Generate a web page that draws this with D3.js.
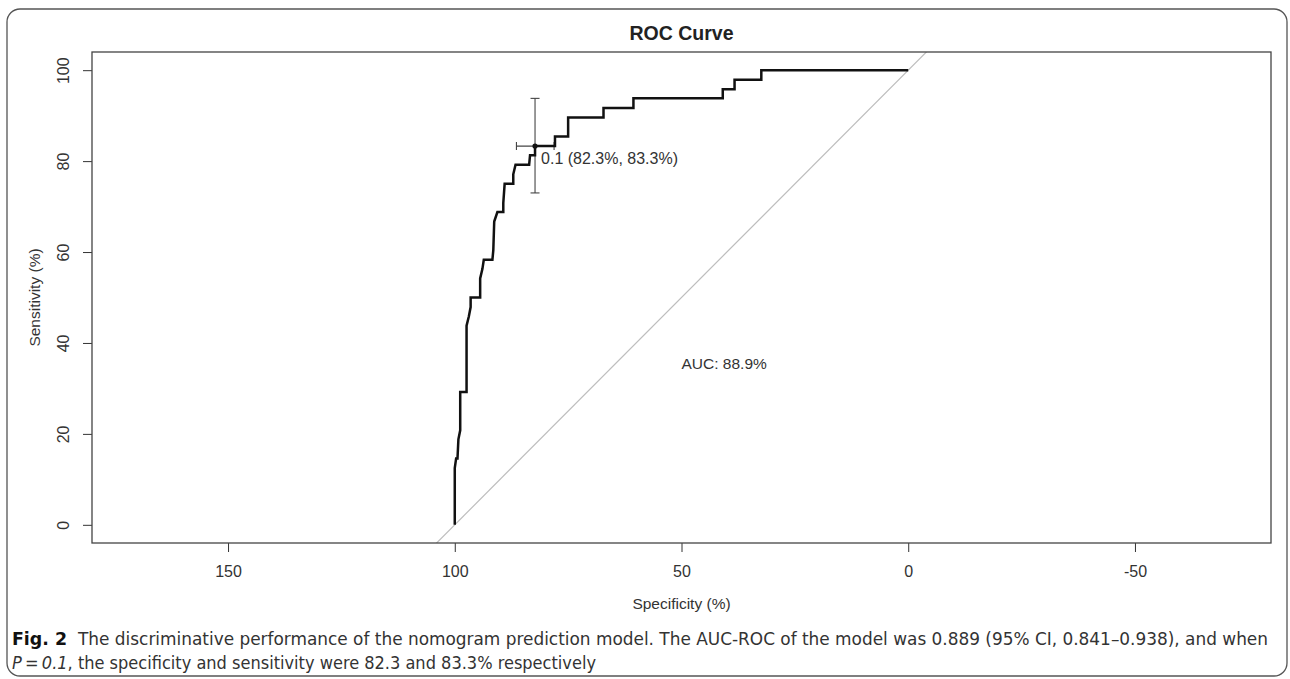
<!DOCTYPE html>
<html>
<head>
<meta charset="utf-8">
<script src="https://cdn.jsdelivr.net/npm/d3@7"></script>
<style>
  body { margin: 0; background: #fff; }
  svg { display: block; }
  .tick text { font-family: "Liberation Sans", Arial, sans-serif; }
</style>
</head>
<body>
<div id="chart"></div>
<script>
// ROC curve points (specificity %, sensitivity %)
const specificity = [100, 100, 99.7, 99.4, 99.2, 98.8, 98.8, 97.4, 97.4, 96.9, 96.5, 96.5, 94.4, 94.4, 93.9, 93.6, 91.7, 91.5, 91.3, 90.6, 89.3, 89.3, 89.0, 87.1, 87.1, 86.6, 83.6, 83.4, 82.3, 82.3, 77.9, 77.9, 75.0, 75.0, 67.2, 67.2, 60.6, 60.6, 40.9, 40.9, 38.3, 38.3, 32.4, 32.4, 0]
const sensitivity = [0, 12.5, 14.6, 14.6, 18.8, 20.8, 29.2, 29.2, 43.8, 45.8, 47.9, 50, 50, 54.2, 56.3, 58.3, 58.3, 60.4, 66.7, 68.8, 68.8, 70.8, 75, 75, 77.1, 79.2, 79.2, 81.3, 81.3, 83.3, 83.3, 85.4, 85.4, 89.6, 89.6, 91.7, 91.7, 93.8, 93.8, 95.8, 95.8, 97.9, 97.9, 100, 100]

// best threshold and its confidence intervals
const threshold = { label: '0.1', spec: 82.3, sens: 83.3 }
const specCI = [86.4, 78.1]
const sensCI = [73.0, 93.8]
const auc = 88.9

const xTicks = [150, 100, 50, 0, -50]
const yTicks = [0, 20, 40, 60, 80, 100]

const width = 1290
const height = 679
const margin = { top: 52, left: 92, right: 19, bottom: 136 }
const axisFont = '"Liberation Sans", Arial, sans-serif'

const svg = d3
  .select('#chart')
  .append('svg')
  .attr('width', width)
  .attr('height', height)

// outer figure frame
svg
  .append('rect')
  .attr('x', 7)
  .attr('y', 9)
  .attr('width', 1280)
  .attr('height', 667)
  .attr('rx', 13)
  .attr('fill', 'none')
  .attr('stroke', '#555')
  .attr('stroke-width', 1.3)

const x = d3
  .scaleLinear()
  .domain([180, -80])
  .range([margin.left, width - margin.right])

const y = d3
  .scaleLinear()
  .domain([-4, 104])
  .range([height - margin.bottom, margin.top])

const plot = svg.append('g')

// diagonal chance line, clipped to the plot box
svg
  .append('clipPath')
  .attr('id', 'box')
  .append('rect')
  .attr('x', x.range()[0])
  .attr('y', y.range()[1])
  .attr('width', x.range()[1] - x.range()[0])
  .attr('height', y.range()[0] - y.range()[1])

plot
  .append('line')
  .attr('clip-path', 'url(#box)')
  .attr('x1', x(110))
  .attr('y1', y(-10))
  .attr('x2', x(-10))
  .attr('y2', y(110))
  .attr('stroke', '#bdbdbd')
  .attr('stroke-width', 1.2)

// CI bars
const ci = plot.append('g').attr('stroke', '#444').attr('stroke-width', 1.1)
ci.append('line')
  .attr('x1', x(specCI[0]))
  .attr('x2', x(specCI[1]))
  .attr('y1', y(threshold.sens))
  .attr('y2', y(threshold.sens))
ci.selectAll('.hcap')
  .data(specCI)
  .enter()
  .append('line')
  .attr('x1', d => x(d))
  .attr('x2', d => x(d))
  .attr('y1', y(threshold.sens) - 4)
  .attr('y2', y(threshold.sens) + 4)
ci.append('line')
  .attr('x1', x(threshold.spec))
  .attr('x2', x(threshold.spec))
  .attr('y1', y(sensCI[0]))
  .attr('y2', y(sensCI[1]))
ci.selectAll('.vcap')
  .data(sensCI)
  .enter()
  .append('line')
  .attr('x1', x(threshold.spec) - 4.5)
  .attr('x2', x(threshold.spec) + 4.5)
  .attr('y1', d => y(d))
  .attr('y2', d => y(d))

// the ROC curve
const line = d3
  .line()
  .x(d => x(d[0]))
  .y(d => y(d[1]))

plot
  .append('path')
  .datum(d3.zip(specificity, sensitivity))
  .attr('d', line)
  .attr('fill', 'none')
  .attr('stroke', '#111')
  .attr('stroke-width', 2.5)
  .attr('stroke-linejoin', 'miter')

plot
  .append('circle')
  .attr('cx', x(threshold.spec))
  .attr('cy', y(threshold.sens))
  .attr('r', 2.6)
  .attr('fill', '#111')

plot
  .append('text')
  .text(`${threshold.label} (${threshold.spec}%, ${threshold.sens}%)`)
  .attr('x', x(threshold.spec) + 6)
  .attr('y', y(threshold.sens) + 18)
  .attr('font-family', axisFont)
  .attr('font-size', 16)
  .attr('fill', '#333')

plot
  .append('text')
  .text(`AUC: ${auc}%`)
  .attr('x', x(50))
  .attr('y', y(50) + 71)
  .attr('font-family', axisFont)
  .attr('font-size', 15.5)
  .attr('fill', '#333')

// axes
const xAxis = svg
  .append('g')
  .attr('transform', `translate(0,${y.range()[0]})`)
  .call(
    d3
      .axisBottom(x)
      .tickValues(xTicks)
      .tickFormat(d => String(d))
      .tickSize(9)
      .tickPadding(14)
  )
xAxis.select('.domain').remove()
xAxis.selectAll('line').attr('stroke', '#333')
xAxis.selectAll('text').attr('font-size', 16).attr('fill', '#333')

const yAxis = svg
  .append('g')
  .attr('transform', `translate(${x.range()[0]},0)`)
  .call(d3.axisLeft(y).tickValues(yTicks).tickSize(9))
yAxis.select('.domain').remove()
yAxis.selectAll('line').attr('stroke', '#333')
yAxis
  .selectAll('text')
  .attr('font-size', 16)
  .attr('fill', '#333')
  .attr('text-anchor', 'middle')
  .attr('x', null)
  .attr('transform', 'translate(-29,0) rotate(-90)')
  .attr('dy', '0.35em')

// plot box
svg
  .append('rect')
  .attr('x', x.range()[0])
  .attr('y', y.range()[1])
  .attr('width', x.range()[1] - x.range()[0])
  .attr('height', y.range()[0] - y.range()[1])
  .attr('fill', 'none')
  .attr('stroke', '#444')
  .attr('stroke-width', 1.3)

// titles
svg
  .append('text')
  .text('ROC Curve')
  .attr('x', (x.range()[0] + x.range()[1]) / 2)
  .attr('y', 40)
  .attr('text-anchor', 'middle')
  .attr('font-family', axisFont)
  .attr('font-weight', 'bold')
  .attr('font-size', 19.5)
  .attr('fill', '#222')

svg
  .append('text')
  .text('Specificity (%)')
  .attr('x', (x.range()[0] + x.range()[1]) / 2)
  .attr('y', 609)
  .attr('text-anchor', 'middle')
  .attr('font-family', axisFont)
  .attr('font-size', 15.5)
  .attr('fill', '#333')

svg
  .append('text')
  .text('Sensitivity (%)')
  .attr('transform', `translate(40,${(y.range()[0] + y.range()[1]) / 2}) rotate(-90)`)
  .attr('text-anchor', 'middle')
  .attr('font-family', axisFont)
  .attr('font-size', 15.5)
  .attr('fill', '#333')

// caption
const capFont = '"Liberation Sans Narrow", "DejaVu Sans Condensed", "Roboto Condensed", sans-serif'

svg
  .append('text')
  .text('Fig. 2')
  .attr('x', 12)
  .attr('y', 645)
  .attr('font-family', capFont)
  .attr('font-weight', 'bold')
  .attr('font-size', 18.5)
  .attr('textLength', 55)
  .attr('lengthAdjust', 'spacingAndGlyphs')
  .attr('fill', '#111')

svg
  .append('text')
  .text('The discriminative performance of the nomogram prediction model. The AUC-ROC of the model was 0.889 (95% CI, 0.841\u20130.938), and when')
  .attr('x', 78)
  .attr('y', 645)
  .attr('font-family', capFont)
  .attr('font-size', 18.5)
  .attr('textLength', 1190)
  .attr('lengthAdjust', 'spacingAndGlyphs')
  .attr('fill', '#333')

const line2 = svg
  .append('text')
  .attr('x', 12)
  .attr('y', 669)
  .attr('font-family', capFont)
  .attr('font-size', 18.5)
  .attr('textLength', 584)
  .attr('lengthAdjust', 'spacingAndGlyphs')
  .attr('fill', '#333')
line2.append('tspan').attr('font-style', 'italic').text('P')
line2.append('tspan').text('\u2009=\u2009')
line2.append('tspan').attr('font-style', 'italic').text('0.1')
line2.append('tspan').text(', the specificity and sensitivity were 82.3 and 83.3% respectively')
</script>
</body>
</html>
